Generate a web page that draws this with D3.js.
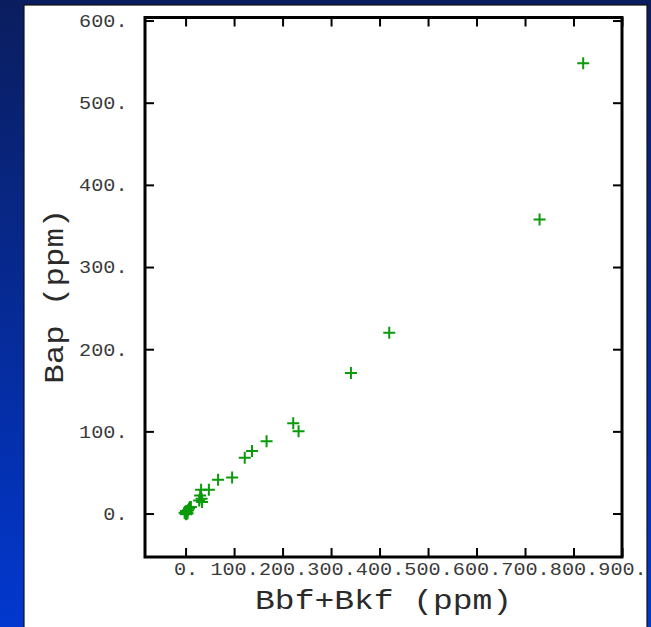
<!DOCTYPE html>
<html>
<head>
<meta charset="utf-8">
<script src="https://cdn.jsdelivr.net/npm/d3@7"></script>
<style>
  html, body { margin: 0; padding: 0; background: #0a1f66; }
  svg { display: block; }
  text { font-family: "Liberation Mono", "Courier New", monospace; }
</style>
</head>
<body>
<svg id="chart" width="651" height="627"></svg>
<script>
// ---- data ----
const bbfBkf = [820, 730, 420, 341, 222, 233, 167, 137, 122, 96, 67, 48, 32, 30, 28, 34, 33, 0, 1, 2, 3, 5, 7, 9, 11, 1, 4, -2];
const bap    = [548, 358, 220, 171, 110, 100, 88, 76, 68, 44, 41, 29, 29, 22, 16, 14, 18, 0, -1, 2, 1, 4, 6, 8, 8, 3, 0, 1];
const xTicks = [0, 100, 200, 300, 400, 500, 600, 700, 800, 900];
const yTicks = [0, 100, 200, 300, 400, 500, 600];
const xTitle = "Bbf+Bkf (ppm)";
const yTitle = "Bap (ppm)";

const W = 651, H = 627;
const svg = d3.select("#chart");

// background gradient
const defs = svg.append("defs");
const grad = defs.append("linearGradient").attr("id", "bg")
  .attr("x1", 0).attr("y1", 0).attr("x2", 0).attr("y2", 1);
grad.append("stop").attr("offset", "0%").attr("stop-color", "#0a1d5e");
grad.append("stop").attr("offset", "100%").attr("stop-color", "#0238cf");
svg.append("rect").attr("width", W).attr("height", H).attr("fill", "url(#bg)");

// white panel
svg.append("rect").attr("x", 24).attr("y", 5).attr("width", 623).attr("height", 630)
  .attr("fill", "#fff").attr("stroke", "#111").attr("stroke-width", 1.2);

// plot frame
const L = 145, R = 622, T = 17.5, B = 557;
const x = d3.scaleLinear().domain([-83.7, 900]).range([L, R]);
const y = d3.scaleLinear().domain([-52.9, 603.7]).range([B, T]);

const CH = 12.1; // stretched char advance for tick labels
const tickFont = 18.5;

// bottom axis
const gx = svg.append("g").attr("transform", `translate(0,${B})`)
  .call(d3.axisBottom(x).tickValues(xTicks).tickSize(-9).tickPadding(4.4).tickFormat(d => d + "."));
// left axis
const gy = svg.append("g").attr("transform", `translate(${L},0)`)
  .call(d3.axisLeft(y).tickValues(yTicks).tickSize(-9).tickPadding(17.5).tickFormat(d => d + "."));
// top & right axes (ticks only)
const gt = svg.append("g").attr("transform", `translate(0,${T})`)
  .call(d3.axisTop(x).tickValues(xTicks).tickSize(-9).tickFormat(""));
const gr = svg.append("g").attr("transform", `translate(${R},0)`)
  .call(d3.axisRight(y).tickValues(yTicks).tickSize(-9).tickFormat(""));

[gx, gy, gt, gr].forEach(g => {
  g.select(".domain").remove();
  g.selectAll(".tick line").attr("stroke", "#000").attr("stroke-width", 2);
  g.selectAll(".tick text")
    .attr("font-family", "'Liberation Mono', 'Courier New', monospace")
    .attr("font-size", tickFont)
    .attr("fill", "#3a3a3a")
    .attr("textLength", function() { return this.textContent.length * CH; })
    .attr("lengthAdjust", "spacingAndGlyphs");
});

// frame
svg.append("rect").attr("x", L).attr("y", T).attr("width", R - L).attr("height", B - T)
  .attr("fill", "none").attr("stroke", "#000").attr("stroke-width", 3);

// points
svg.append("g").selectAll("path").data(bbfBkf.map((v, i) => [v, bap[i]]))
  .join("path")
  .attr("transform", d => `translate(${x(d[0])},${y(d[1])})`)
  .attr("d", "M-6,0H6M0,-6V6")
  .attr("stroke", "#0a9a0a").attr("stroke-width", 2).attr("fill", "none");

// axis titles
svg.append("text").attr("x", 383.6).attr("y", 609)
  .attr("text-anchor", "middle").attr("font-size", 28).attr("fill", "#2a2a2a")
  .attr("textLength", 257).attr("lengthAdjust", "spacingAndGlyphs")
  .text(xTitle);
svg.append("text").attr("transform", "translate(63,296.2) rotate(-90)")
  .attr("text-anchor", "middle").attr("font-size", 28).attr("fill", "#2a2a2a")
  .attr("textLength", 175).attr("lengthAdjust", "spacingAndGlyphs")
  .text(yTitle);
</script>
</body>
</html>
